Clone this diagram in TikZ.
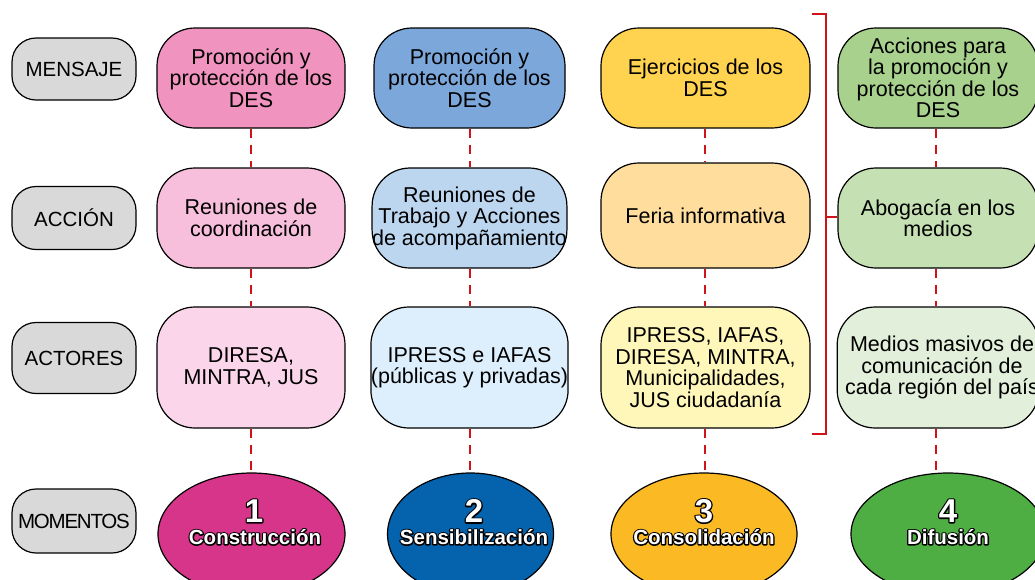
\documentclass[tikz,border=0pt]{standalone}
\usepackage{fontspec}
\setmainfont{Liberation Sans}
\usetikzlibrary{shapes.geometric}
\definecolor{gr}{HTML}{D9D9D9}
\definecolor{pA}{HTML}{F193BF}\definecolor{pB}{HTML}{F8BFDD}\definecolor{pC}{HTML}{FBD6EA}\definecolor{pE}{HTML}{D6358A}
\definecolor{bA}{HTML}{7BA7DA}\definecolor{bB}{HTML}{BDD6F0}\definecolor{bC}{HTML}{DDEFFC}\definecolor{bE}{HTML}{0563AE}
\definecolor{yA}{HTML}{FFD24F}\definecolor{yB}{HTML}{FFDD9C}\definecolor{yC}{HTML}{FFF7BA}\definecolor{yE}{HTML}{FBB923}
\definecolor{gA}{HTML}{A9D18E}\definecolor{gB}{HTML}{C5E0B3}\definecolor{gC}{HTML}{E2EFDA}\definecolor{gE}{HTML}{4FAE43}
\definecolor{rd}{HTML}{D0121B}
\newcommand\olt[1]{\leavevmode\rlap{\color{black}\special{pdf:code 1 Tr 2.6 w 1 j}#1\special{pdf:code 0 Tr 1 w 0 j}}{\color{white}#1}}
\tikzset{
  box/.style={draw, line width=1.2pt, rounded corners=38pt, align=center, inner sep=0pt,
    font=\fontsize{21.5}{21.5}\selectfont},
  lab/.style={draw, line width=1.2pt, fill=gr, rounded corners=24pt, align=center, inner sep=0pt,
    minimum width=124pt, font=\fontsize{20.5}{21}\selectfont},
  mom/.style={draw, line width=1.2pt, ellipse, inner sep=0pt, minimum height=122pt},
  numtxt/.style={inner sep=0pt, font=\fontsize{33}{33}\selectfont\bfseries},
  momtxt/.style={inner sep=0pt, font=\fontsize{20.5}{22}\selectfont\bfseries},
  reddash/.style={draw=rd, line width=2.4pt, dash pattern=on 9pt off 7pt},
  bracket/.style={draw=rd, line width=2.4pt}
}
\begin{document}
\begin{tikzpicture}[x=1pt,y=-1pt]
\useasboundingbox (0,0) rectangle (1035,579);
% left labels
\node[lab, minimum height=62pt] (L1) at (74,69) {MENSAJE};
\node[lab, minimum height=63pt] (L2) at (74,218) {ACCIÓN};
\node[lab, minimum height=71pt] (L3) at (74,358) {ACTORES};
\node[lab, minimum height=64pt] (L4) at (74,521) {\addfontfeatures{LetterSpace=-6}MOMENTOS};
% column 1
\node[box, fill=pA, minimum width=188pt, minimum height=100pt] (m1) at (251,78) {Promoción y\\protección de los\\DES};
\node[box, fill=pB, minimum width=188pt, minimum height=100pt] (a1) at (251,218) {Reuniones de\\coordinación};
\node[box, fill=pC, minimum width=188pt, minimum height=121pt] (c1) at (251,367.5) {DIRESA,\\MINTRA, JUS};
% column 2
\node[box, fill=bA, minimum width=191pt, minimum height=100pt] (m2) at (469.5,78) {Promoción y\\protección de los\\DES};
\node[box, fill=bB, minimum width=191pt, minimum height=100pt] (a2) at (469.5,218) {Reuniones de\\Trabajo y Acciones\\de acompañamiento};
\node[box, fill=bC, minimum width=191pt, minimum height=121pt] (c2) at (469.5,367.5) {IPRESS e IAFAS\\(públicas y privadas)};
% column 3
\node[box, fill=yA, minimum width=209pt, minimum height=100pt] (m3) at (705.5,78) {Ejercicios de los\\DES};
\node[box, fill=yB, minimum width=209pt, minimum height=105pt] (a3) at (705.5,215.5) {Feria informativa};
\node[box, fill=yC, minimum width=209pt, minimum height=121pt] (c3) at (705.5,367.5) {IPRESS, IAFAS,\\DIRESA, MINTRA,\\Municipalidades,\\JUS ciudadanía};
% column 4
\node[box, fill=gA, minimum width=200pt, minimum height=100pt] (m4) at (938,78) {Acciones para\\la promoción y\\protección de los\\DES};
\node[box, fill=gB, minimum width=200pt, minimum height=100pt] (a4) at (938,218) {Abogacía en los\\medios};
\node[box, fill=gC, minimum width=200pt, minimum height=121pt] (c4) at (938,367.5) {\hspace*{8pt}Medios masivos de\\\hspace*{8pt}comunicación de\\\hspace*{8pt}cada región del país};
% moments
\node[mom, fill=pE, minimum width=187pt] (e1) at (251.5,534) {};
\node[mom, fill=bE, minimum width=166pt] (e2) at (470.5,534) {};
\node[mom, fill=yE, minimum width=186pt] (e3) at (704,534) {};
\node[mom, fill=gE, minimum width=194pt] (e4) at (948,534) {};
\node[numtxt] (n1) at (254,511) {\olt{1}};
\node[momtxt] (t1) at (255,537) {\olt{Construcción}};
\node[numtxt] (n2) at (474,511) {\olt{2}};
\node[momtxt] (t2) at (474,537) {\olt{Sensibilización}};
\node[numtxt] (n3) at (704,511) {\olt{3}};
\node[momtxt] (t3) at (704,537) {\olt{Consolidación}};
\node[numtxt] (n4) at (948,511) {\olt{4}};
\node[momtxt] (t4) at (948,537) {\olt{Difusión}};
% dashed connectors
\foreach \i/\x in {1/251,2/470,3/705,4/936}{
  \draw[reddash] (m\i.south -| \x,0) -- (a\i.north -| \x,0);
  \draw[reddash] (a\i.south -| \x,0) -- (c\i.north -| \x,0);
  \draw[reddash] (c\i.south -| \x,0) -- (e\i.north -| \x,0);
}
% bracket
\coordinate (bt) at (812,14);
\coordinate (bb) at (812,434);
\draw[bracket] (bt) -- (826,14) -- (826,434) -- (bb);
\draw[bracket] (826,217) -- (a4.west |- 0,217);
\end{tikzpicture}
\end{document}
